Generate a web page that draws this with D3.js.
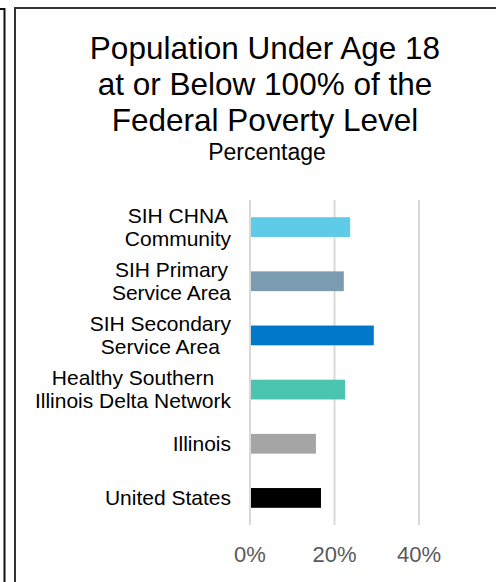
<!DOCTYPE html>
<html>
<head>
<meta charset="utf-8">
<script src="https://d3js.org/d3.v7.min.js"></script>
<style>
  body { margin: 0; background: #fff; }
  svg { display: block; font-family: "Liberation Sans", Arial, sans-serif; }
</style>
</head>
<body>
<div id="chart"></div>
<script>
// data
var categories = [
    ["SIH CHNA", "Community"],
    ["SIH Primary", "Service Area"],
    ["SIH Secondary", "Service Area"],
    ["Healthy Southern", "Illinois Delta Network"],
    ["Illinois"],
    ["United States"]
];
var values = [23.7, 22.2, 29.3, 22.5, 15.6, 16.8];
var barColors = ["#5ecbe8", "#7b9cb0", "#0077c8", "#4bc5b0", "#a5a5a5", "#000000"];
var tickValues = [0, 20, 40];
var titleLines = ["Population Under Age 18", "at or Below 100% of the", "Federal Poverty Level"];
var subtitle = "Percentage";

var width = 496, height = 582;

var svg = d3.select("#chart").append("svg")
    .attr("width", width)
    .attr("height", height);

svg.append("rect")
    .attr("width", width).attr("height", height)
    .attr("fill", "#fff");

// frame of the neighbouring panel (cut off at the left) and this panel's frame
svg.append("path")
    .attr("d", "M0,9H4.5V582")
    .attr("fill", "none").attr("stroke", "#111").attr("stroke-width", 2);
svg.append("path")
    .attr("d", "M15,582V8H496")
    .attr("fill", "none").attr("stroke", "#333").attr("stroke-width", 2);

// title
svg.selectAll(".title")
    .data(titleLines)
    .enter().append("text")
    .attr("class", "title")
    .attr("x", 265)
    .attr("y", function(d, i) { return 59 + i * 36; })
    .attr("text-anchor", "middle")
    .attr("font-size", 31.5)
    .attr("fill", "#000")
    .text(function(d) { return d; });

svg.append("text")
    .attr("x", 267)
    .attr("y", 160)
    .attr("text-anchor", "middle")
    .attr("font-size", 23)
    .attr("fill", "#000")
    .text(subtitle);

// scales
var x = d3.scaleLinear()
    .domain([0, 40])
    .range([250, 419]);

var y = d3.scaleBand()
    .domain(d3.range(categories.length))
    .range([200, 525])
    .paddingInner(0.635)
    .paddingOuter(0.3175);

// gridlines
svg.selectAll(".grid")
    .data(tickValues)
    .enter().append("line")
    .attr("class", "grid")
    .attr("x1", function(d) { return x(d); })
    .attr("x2", function(d) { return x(d); })
    .attr("y1", 200)
    .attr("y2", 525)
    .attr("stroke", "#d9d9d9")
    .attr("stroke-width", 2);

// bars
svg.selectAll(".bar")
    .data(values)
    .enter().append("rect")
    .attr("class", "bar")
    .attr("x", x(0) + 1)
    .attr("y", function(d, i) { return y(i); })
    .attr("width", function(d) { return x(d) - x(0) - 1; })
    .attr("height", y.bandwidth())
    .attr("fill", function(d, i) { return barColors[i]; });

// x tick labels
svg.selectAll(".tick-label")
    .data(tickValues)
    .enter().append("text")
    .attr("class", "tick-label")
    .attr("x", function(d) { return x(d); })
    .attr("y", 562)
    .attr("text-anchor", "middle")
    .attr("font-size", 22)
    .attr("fill", "#595959")
    .text(function(d) { return d + "%"; });

// category labels: lines centred inside a block that is right-aligned to the axis
var labelRight = 231, lineH = 23;
categories.forEach(function(lines, i) {
    var mid = y(i) + y.bandwidth() / 2;
    var g = svg.append("text")
        .attr("font-size", 21)
        .attr("fill", "#000")
        .attr("text-anchor", "middle");
    var spans = lines.map(function(line, j) {
        return g.append("tspan")
            .attr("y", mid + 7 + (j - (lines.length - 1) / 2) * lineH)
            .text(line);
    });
    var maxW = d3.max(spans, function(s) { return s.node().getComputedTextLength(); });
    spans.forEach(function(s) { s.attr("x", labelRight - maxW / 2); });
});
</script>
</body>
</html>
